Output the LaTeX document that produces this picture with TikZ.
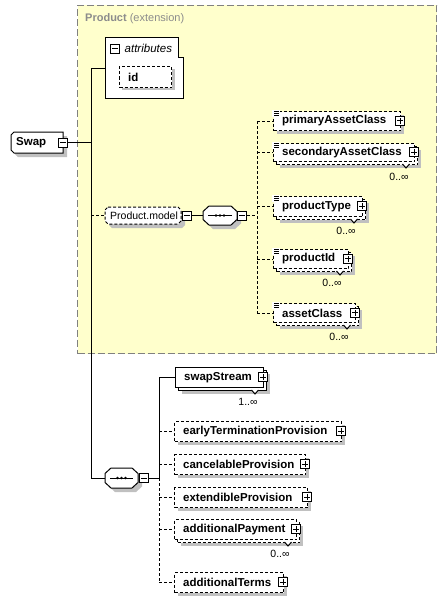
\documentclass[tikz,border=0pt]{standalone}
\usepackage{fontspec}
\setmainfont{Liberation Sans}
\definecolor{prodyellow}{RGB}{255,255,204}
\definecolor{shadowgray}{RGB}{192,192,192}
\definecolor{framegray}{RGB}{128,128,128}
\definecolor{titlegray}{RGB}{140,140,140}
\tikzset{
  conn/.style={line width=1pt},
  opt/.style={dash pattern=on 3pt off 2pt},
  bx/.style={draw, line width=1pt, fill=white, inner sep=0pt, anchor=north west},
  ghost/.style={inner sep=0pt, anchor=north west, draw=none},
  lbl/.style={anchor=west, inner sep=0pt, font=\fontsize{11.5}{13}\selectfont\bfseries},
  rlbl/.style={anchor=west, inner sep=0pt, font=\fontsize{10.5}{12}\selectfont},
  mult/.style={inner sep=0pt, font=\fontsize{10.5}{12}\selectfont},
}
% plus / minus toggle box: name, x, y, 1=plus 0=minus
\newcommand\pmbox[4]{%
  \node[draw, fill=white, line width=1pt, minimum size=9pt, inner sep=0pt] (#1) at (#2,#3) {};
  \draw[line width=1pt] ([xshift=-3pt]#1.center) -- ([xshift=3pt]#1.center);
  \ifnum#4=1 \draw[line width=1pt] ([yshift=-3pt]#1.center) -- ([yshift=3pt]#1.center);\fi
}
% octagon path: style, x1, y1, x2, y2, cx, cy
\newcommand\octo[7]{%
  \path[#1] (#2+#6,#3) -- (#4-#6,#3) -- (#4,#3+#7) -- (#4,#5-#7) -- (#4-#6,#5)
    -- (#2+#6,#5) -- (#2,#5-#7) -- (#2,#3+#7) -- cycle;
}
% element: name, x, y, w, h, text, style, stacked, icon
\newcommand\elem[9]{%
  \ifnum#8=1
    \fill[shadowgray] (#2+7,#3+7) rectangle ++(#4,#5);
    \node[bx,#7,minimum width=#4pt,minimum height=#5pt] (#1-back) at (#2+3,#3+3) {};
    \draw[line width=1pt,fill=white] (#2+#4-11.5,#3+#5+3) -- ++(3.5,4) -- ++(3.5,-4);
  \else
    \fill[shadowgray] (#2+4,#3+4) rectangle ++(#4,#5);
  \fi
  \node[bx,#7,minimum width=#4pt,minimum height=#5pt] (#1) at (#2,#3) {};
  \node[lbl] (#1-t) at ([xshift=9pt]#1.west) {#6};
  \ifnum#9=1
    \fill[white] (#2-1,#3-1) rectangle (#2+7,#3+5.5);
    \draw[line width=0.8pt] (#2+1,#3) -- ++(5,0) (#2+1,#3+2) -- ++(5,0) (#2+1,#3+4) -- ++(5,0);
  \fi
  \pmbox{#1-p}{#2+#4}{#3+#5/2}{1}
}
\begin{document}
\begin{tikzpicture}[x=1pt,y=-1pt]
\useasboundingbox (0,0) rectangle (446,602);
\fill[white] (0,0) rectangle (446,602);

% Product (extension) group
\node[ghost, minimum width=359pt, minimum height=348pt, fill=prodyellow,
      draw=framegray, line width=1pt, dash pattern=on 7pt off 3pt] (product) at (77,5) {};
\node[anchor=west, inner sep=0pt, text=titlegray, font=\fontsize{11}{13}\selectfont]
  (ptitle) at (85,19) {\textbf{Product} (extension)};

% invisible anchors for named shapes
\node[ghost, minimum width=52pt, minimum height=21pt] (swap) at (11,132) {};
\node[ghost, minimum width=78pt, minimum height=60pt] (attr) at (105,38) {};
\node[ghost, minimum width=76pt, minimum height=17pt] (pm) at (105,207) {};
\node[ghost, minimum width=34pt, minimum height=19pt] (s1) at (203,206) {};
\node[ghost, minimum width=33pt, minimum height=20pt] (s2) at (105,468) {};
\coordinate (mbus) at (91,0);
\coordinate (tbus) at (257,0);
\coordinate (bbus) at (159,0);

% ---- elements (boxes) ----
% top children
\elem{pac}{273}{111}{127}{19}{primaryAssetClass}{opt}{0}{1}
\elem{sac}{273}{143}{141}{18}{secondaryAssetClass}{opt}{1}{1}
\elem{pt}{273}{196}{89}{20}{productType}{opt}{1}{1}
\elem{pid}{273}{249}{75}{19}{productId}{opt}{1}{1}
\elem{ac}{273}{303}{82}{19}{assetClass}{opt}{1}{1}
% bottom children
\elem{ss}{175}{367}{88}{20}{swapStream}{}{1}{0}
\elem{etp}{174}{421}{167}{20}{earlyTerminationProvision}{opt}{0}{0}
\elem{cp}{174}{454}{131}{20}{cancelableProvision}{opt}{0}{0}
\elem{ep}{174}{487}{133}{20}{extendibleProvision}{opt}{0}{0}
\elem{ap}{174}{519}{122}{20}{additionalPayment}{opt}{1}{0}
\elem{at}{174}{572}{109}{20}{additionalTerms}{opt}{0}{0}

% multiplicities
\node[mult] (m-sac) at (399,177) {0..∞};
\node[mult] (m-pt) at (346,231) {0..∞};
\node[mult] (m-pid) at (332,283) {0..∞};
\node[mult] (m-ac) at (339,337) {0..∞};
\node[mult] (m-ss) at (248,402) {1..∞};
\node[mult] (m-ap) at (280,554) {0..∞};

% ---- connectors ----
\draw[conn] (swap.east) -- (swap.east -| mbus);
\draw[conn] (attr.west -| mbus) -- (s2.west -| mbus) -- (s2.west);
\draw[conn] (attr.west -| mbus) -- (attr.west);
\draw[conn,opt] (pm.west -| mbus) -- (pm.west);
\draw[conn] (pm.east) -- (s1.west);
\draw[conn,opt] (s1.east) -- (s1.east -| tbus);
\draw[conn,opt] (pac.west -| tbus) -- (ac.west -| tbus);
\foreach \n in {pac,sac,pt,pid,ac} \draw[conn,opt] (\n.west -| tbus) -- (\n.west);
\draw[conn] (s2.east) -- (s2.east -| bbus);
\draw[conn] (ss.west -| bbus) -- (s2.east -| bbus);
\draw[conn,opt] (s2.east -| bbus) -- (at.west -| bbus);
\draw[conn] (ss.west -| bbus) -- (ss.west);
\foreach \n in {etp,cp,ep,ap,at} \draw[conn,opt] (\n.west -| bbus) -- (\n.west);

% ---- Swap ----
\fill[shadowgray] (18,136) -- (67,136) -- (67,157) -- (18,157) -- (15,154) -- (15,139) -- cycle;
\draw[line width=1pt, fill=white] (14,132) -- (63,132) -- (63,153) -- (14,153) -- (11,150) -- (11,135) -- cycle;
\node[lbl] (swap-t) at (16,142.5) {Swap};
\pmbox{swapm}{63}{142.5}{0}

% ---- attributes ----
\draw[line width=1pt, fill=white] (105,38) -- (178,38) -- (178,58) -- (183,58) -- (183,98) -- (105,98) -- cycle;
\pmbox{attrm}{115}{49}{0}
\node[anchor=west, inner sep=0pt, font=\fontsize{11.5}{13}\selectfont\itshape] (attr-t) at (124.5,48.5) {attributes};
\fill[shadowgray] (122,69) rectangle (175,90);
\node[bx, opt, minimum width=52pt, minimum height=21pt] (id) at (119,66) {};
\node[lbl] (id-t) at ([xshift=9pt]id.west) {id};

% ---- Product.model ----
\octo{fill=shadowgray}{109}{211}{185}{228}{3}{3}
\octo{draw, fill=white, line width=1pt, opt}{105}{207}{181}{224}{3}{3}
\node[rlbl] (pm-t) at (110,215.5) {Product.model};
\pmbox{pmm}{187}{215.5}{0}

% ---- sequence 1 ----
\octo{fill=shadowgray}{207}{210}{241}{229}{6}{5.5}
\octo{draw, fill=white, line width=1pt}{203}{206}{237}{225}{6}{5.5}
\draw[line width=1pt] (208,215.5) -- (232,215.5);
\foreach \dx in {-4,0,4} \fill (220+\dx,215.5) circle (1.4);
\pmbox{s1m}{242}{215.5}{0}

% ---- sequence 2 ----
\octo{fill=shadowgray}{109}{472}{142}{492}{6}{5.5}
\octo{draw, fill=white, line width=1pt}{105}{468}{138}{488}{6}{5.5}
\draw[line width=1pt] (110,478) -- (133,478);
\foreach \dx in {-4,0,4} \fill (121.5+\dx,478) circle (1.4);
\pmbox{s2m}{144}{478}{0}
\end{tikzpicture}
\end{document}
